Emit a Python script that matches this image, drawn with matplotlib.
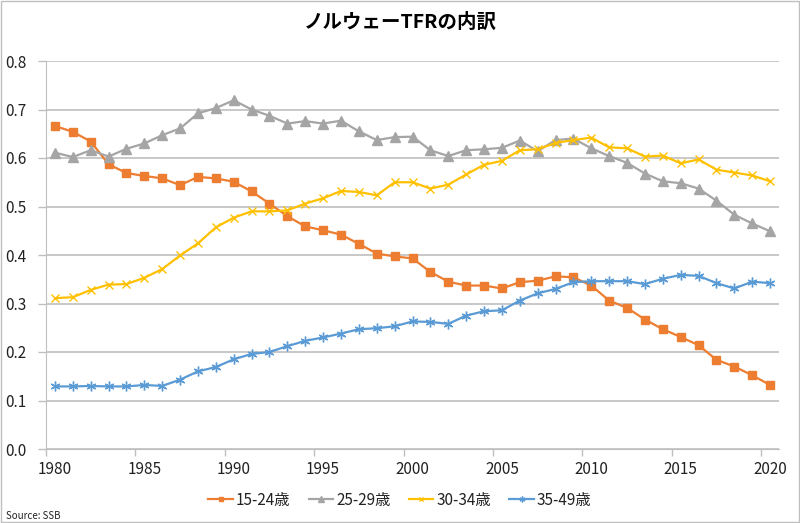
import numpy as np
import matplotlib.pyplot as plt
import matplotlib.patches as patches

plt.rcParams['font.family'] = ['Noto Sans CJK JP', 'DejaVu Sans']

years = list(range(1980, 2021))

age_15_24 = [0.666, 0.654, 0.634, 0.587, 0.569, 0.563, 0.558, 0.544, 0.561, 0.558,
             0.551, 0.531, 0.506, 0.480, 0.459, 0.451, 0.442, 0.423, 0.403, 0.397,
             0.393, 0.365, 0.345, 0.337, 0.337, 0.331, 0.344, 0.347, 0.356, 0.354,
             0.337, 0.306, 0.291, 0.267, 0.247, 0.231, 0.214, 0.184, 0.170, 0.152,
             0.132]
age_25_29 = [0.611, 0.602, 0.616, 0.603, 0.619, 0.630, 0.647, 0.661, 0.692, 0.703,
             0.719, 0.700, 0.687, 0.671, 0.676, 0.671, 0.677, 0.655, 0.637, 0.643,
             0.644, 0.616, 0.604, 0.616, 0.618, 0.621, 0.636, 0.614, 0.637, 0.640,
             0.620, 0.604, 0.590, 0.568, 0.552, 0.548, 0.537, 0.512, 0.483, 0.465,
             0.449]
age_30_34 = [0.311, 0.313, 0.328, 0.339, 0.340, 0.353, 0.371, 0.399, 0.424, 0.457,
             0.477, 0.490, 0.490, 0.492, 0.506, 0.517, 0.532, 0.530, 0.523, 0.550,
             0.550, 0.537, 0.545, 0.566, 0.586, 0.594, 0.616, 0.618, 0.631, 0.637,
             0.642, 0.622, 0.620, 0.603, 0.605, 0.589, 0.597, 0.576, 0.570, 0.564,
             0.552]
age_35_49 = [0.129, 0.129, 0.130, 0.129, 0.129, 0.132, 0.130, 0.143, 0.160, 0.169,
             0.185, 0.196, 0.200, 0.212, 0.223, 0.230, 0.238, 0.247, 0.249, 0.253,
             0.263, 0.262, 0.258, 0.275, 0.284, 0.286, 0.306, 0.321, 0.330, 0.344,
             0.346, 0.346, 0.346, 0.340, 0.351, 0.359, 0.357, 0.342, 0.331, 0.345,
             0.342]

labels = ['15-24歳', '25-29歳', '30-34歳', '35-49歳']
series = [age_15_24, age_25_29, age_30_34, age_35_49]
colors = ['#ED7D31', '#A5A5A5', '#FFC000', '#5B9BD5']
markers = ['s', '^', 'x', (6, 2, 0)]
msizes = [6, 7, 6, 7]

fig = plt.figure(figsize=(8, 5.23), dpi=100)
ax = fig.add_axes([46 / 800, 1 - 449 / 523, (779 - 46) / 800, (449 - 61) / 523])

for vals, lab, c, m, ms in zip(series, labels, colors, markers, msizes):
    ax.plot(years, vals, color=c, lw=1.6, marker=m, markersize=ms,
            markeredgewidth=1.0, label=lab)

ax.set_xlim(1979.5, 2020.5)
ax.set_ylim(0, 0.8)
ax.set_yticks(np.arange(0, 0.81, 0.1))
ax.set_yticklabels([f'{v:.1f}' for v in np.arange(0, 0.81, 0.1)])
ax.set_xticks(range(1980, 2021, 5))
ax.set_xticks(np.arange(1979.5, 2020, 5), minor=True)
ax.tick_params(axis='x', which='major', length=0, pad=9, labelsize=11, labelcolor='#222222')
ax.tick_params(axis='x', which='minor', length=5, color='#BFBFBF', width=1)
ax.tick_params(axis='y', length=6, color='#BFBFBF', width=1, pad=8, labelsize=11,
               labelcolor='#222222')

ax.grid(axis='y', color='#BFBFBF', lw=1.2)
ax.set_axisbelow(True)
for s in ['top', 'right']:
    ax.spines[s].set_visible(False)
ax.spines['left'].set_color('#BFBFBF')
ax.spines['bottom'].set_color('#BFBFBF')

fig.text(0.5, 1 - 22 / 523, 'ノルウェーTFRの内訳', ha='center', va='center',
         fontsize=14, fontweight='bold')

fig.legend(loc='center', bbox_to_anchor=(0.5, 1 - 500 / 523), ncol=4, frameon=False,
           fontsize=11, handlelength=1.6, columnspacing=1.2, handletextpad=0.2,
           markerscale=0.6, labelcolor='#222222')

fig.text(6 / 800, 1 - 516 / 523, 'Source: SSB', fontsize=7, ha='left', va='center',
         color='#222222')

fig.patches.append(patches.Rectangle((0.001, 0.001), 0.998, 0.998, transform=fig.transFigure,
                                     fill=False, edgecolor='#BFBFBF', lw=1))

fig.savefig('out.png', dpi=100)
